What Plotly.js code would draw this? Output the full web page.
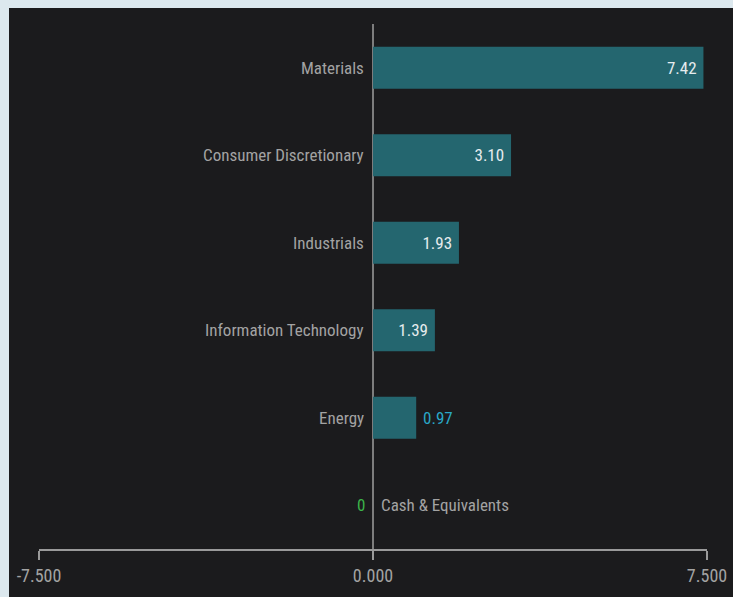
<!DOCTYPE html>
<html>
<head>
<meta charset="utf-8">
<script src="https://cdn.plot.ly/plotly-3.0.1.min.js"></script>
<style>
  html, body { margin: 0; padding: 0; background: #dce8ee; width: 733px; height: 597px; overflow: hidden; }
  #chart { position: absolute; left: 9px; top: 8px; width: 724px; height: 589px; }
</style>
</head>
<body>
<div id="chart"></div>
<script>
const categories = ["Materials", "Consumer Discretionary", "Industrials", "Information Technology", "Energy", "Cash & Equivalents"];
const values = [7.42, 3.10, 1.93, 1.39, 0.97, 0];
const tickValues = [-7.5, 0, 7.5];
const tickLabels = ["-7.500", "0.000", "7.500"];

const FONT = '"Roboto Condensed", "DejaVu Sans Condensed", sans-serif';
const labelColor = '#a3a3a3';

const textPos = values.map(v => (v === 0 ? 'none' : (v < 1.2 ? 'outside' : 'inside')));
const textCol = values.map(v => (v < 1.2 ? '#2aa8c8' : '#e6ecee'));
const texts = values.map(v => (v === 0 ? '' : (v < 1.2 ? '\u00a0' + v.toFixed(2) : v.toFixed(2) + '\u00a0')));

const trace = {
  type: 'bar',
  orientation: 'h',
  x: values,
  y: categories,
  width: 0.48,
  marker: { color: '#24666f', line: { width: 0 } },
  text: texts,
  textposition: textPos,
  insidetextanchor: 'end',
  textfont: { family: FONT, size: 17, color: textCol },
  insidetextfont: { family: FONT, size: 17, color: textCol },
  outsidetextfont: { family: FONT, size: 17, color: textCol },
  cliponaxis: false,
  hoverinfo: 'none'
};

const annotations = [];
categories.forEach((c, i) => {
  const v = values[i];
  if (v > 0) {
    annotations.push({ x: 0, y: c, xref: 'x', yref: 'y', text: c, showarrow: false,
      xanchor: 'right', xshift: -7, font: { family: FONT, size: 17, color: labelColor } });
  } else {
    annotations.push({ x: 0, y: c, xref: 'x', yref: 'y', text: c, showarrow: false,
      xanchor: 'left', xshift: 6, font: { family: FONT, size: 17, color: labelColor } });
    annotations.push({ x: v, y: c, xref: 'x', yref: 'y', text: String(v), showarrow: false,
      xanchor: 'right', xshift: -6, font: { family: FONT, size: 17, color: '#3cb54a' } });
  }
});

const layout = {
  width: 724,
  height: 589,
  margin: { l: 30, r: 26, t: 16, b: 48 },
  paper_bgcolor: '#1b1b1d',
  plot_bgcolor: '#1b1b1d',
  showlegend: false,
  font: { family: FONT, color: labelColor },
  xaxis: {
    range: [-7.5, 7.5],
    tickvals: tickValues,
    ticktext: tickLabels,
    showgrid: false,
    zeroline: true,
    zerolinecolor: '#7d7d7d',
    zerolinewidth: 2,
    showline: true,
    linecolor: '#9a9a9a',
    linewidth: 2,
    ticks: 'outside',
    ticklen: 9,
    tickwidth: 2,
    tickcolor: '#9a9a9a',
    tickfont: { family: FONT, size: 18, color: '#a3a3a3' },
    fixedrange: true
  },
  yaxis: {
    type: 'category',
    range: [5.5, -0.5],
    showticklabels: false,
    showgrid: false,
    zeroline: false,
    showline: false,
    ticks: '',
    fixedrange: true
  },
  annotations: annotations
};

Plotly.newPlot('chart', [trace], layout, { displayModeBar: false, staticPlot: true });
</script>
</body>
</html>
